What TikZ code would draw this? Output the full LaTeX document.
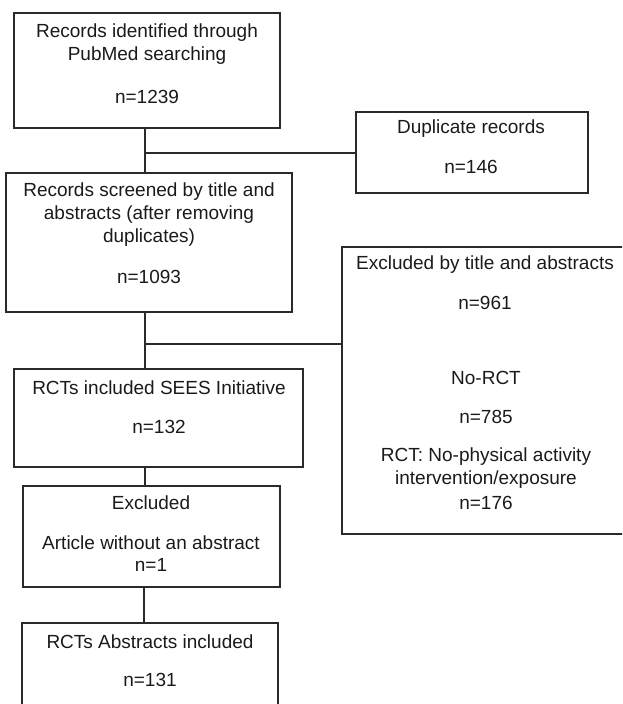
\documentclass[tikz,border=0pt]{standalone}
\usepackage{fontspec}
\setmainfont{Liberation Sans}
\begin{document}
\begin{tikzpicture}[x=1pt,y=-1pt,
  boxst/.style={draw=linec,line width=1.3pt,inner sep=0pt,outer sep=0pt},
  lbl/.style={text=txtc,font=\fontsize{19}{22}\selectfont,inner sep=0pt,anchor=center},
  conn/.style={draw=linec,line width=1.2pt}]
\definecolor{linec}{HTML}{2A2A2A}
\definecolor{txtc}{HTML}{1A1A1A}
\useasboundingbox (0,0) rectangle (622,704);
\clip (0,0) rectangle (622,704);
% boxes
\node[boxst,minimum width=266pt,minimum height=115pt] (b1) at (147,70.5) {};
\node[boxst,minimum width=232pt,minimum height=81pt] (dup) at (472,152.5) {};
\node[boxst,minimum width=286pt,minimum height=139pt] (b2) at (149,242.5) {};
\node[boxst,minimum width=290pt,minimum height=287pt] (exc) at (487,390.5) {};
\node[boxst,minimum width=289pt,minimum height=98pt] (b3) at (158.5,418) {};
\node[boxst,minimum width=257pt,minimum height=101pt] (b4) at (151.5,536.5) {};
\node[boxst,minimum width=256pt,minimum height=92pt] (b5) at (150,669) {};
% junction coordinates
\coordinate (j1) at (145,153);
\coordinate (j2) at (145,344);
\coordinate (j3) at (145,476);
\coordinate (j4) at (144,605);
% connectors
\draw[conn] (b1.south -| j1) -- (b2.north -| j1);
\draw[conn] (j1) -- (dup.west |- j1);
\draw[conn] (b2.south -| j2) -- (b3.north -| j2);
\draw[conn] (j2) -- (exc.west |- j2);
\draw[conn] (b3.south -| j3) -- (b4.north -| j3);
\draw[conn] (b4.south -| j4) -- (b5.north -| j4);
% texts
\node[lbl] (t1a) at (147,33) {Records identified through};
\node[lbl] (t1b) at (147,56) {PubMed searching};
\node[lbl] (t1c) at (147,97) {n=1239};
\node[lbl] (tda) at (471,129) {Duplicate records};
\node[lbl] (tdb) at (471,167) {n=146};
\node[lbl] (t2a) at (149,192) {Records screened by title and};
\node[lbl] (t2b) at (149,215) {abstracts (after removing};
\node[lbl] (t2c) at (149,238) {duplicates)};
\node[lbl] (t2d) at (149,277) {n=1093};
\node[lbl] (tea) at (485,265) {Excluded by title and abstracts};
\node[lbl] (teb) at (485,303) {n=961};
\node[lbl] (tec) at (486,378) {No-RCT};
\node[lbl] (ted) at (486,417) {n=785};
\node[lbl] (tee) at (486,457) {RCT: No-physical activity};
\node[lbl] (tef) at (486,480) {intervention/exposure};
\node[lbl] (teg) at (486,503) {n=176};
\node[lbl] (t3a) at (159,388) {RCTs included SEES Initiative};
\node[lbl] (t3b) at (159,427) {n=132};
\node[lbl] (t4a) at (151,503) {Excluded};
\node[lbl] (t4b) at (151,543) {Article without an abstract};
\node[lbl] (t4c) at (151,565) {n=1};
\node[lbl] (t5a) at (150,642) {RCTs Abstracts included};
\node[lbl] (t5b) at (150,680) {n=131};
\end{tikzpicture}
\end{document}
